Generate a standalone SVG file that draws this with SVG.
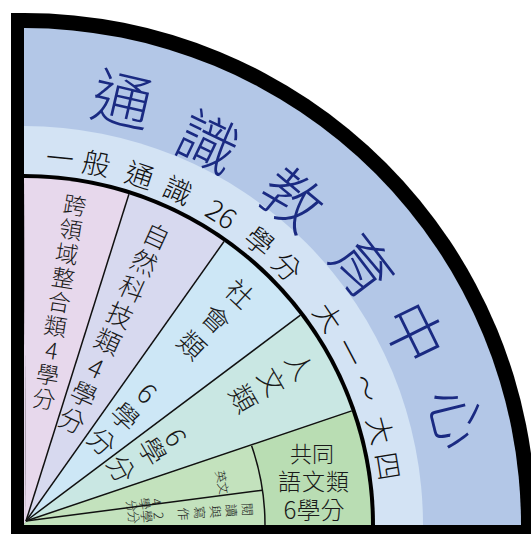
<svg xmlns="http://www.w3.org/2000/svg" width="531" height="534" viewBox="0 0 531 534">
<style>
.nav{font-family:"Noto Sans CJK TC","Noto Sans CJK SC",sans-serif;font-size:60px;font-weight:300;fill:#1a2a82;text-anchor:middle;dominant-baseline:central}
.band{font-family:"Noto Sans CJK TC","Noto Sans CJK SC",sans-serif;font-size:28px;font-weight:300;fill:#111;text-anchor:middle;dominant-baseline:central}
.col{font-family:"Noto Sans CJK TC","Noto Sans CJK SC",sans-serif;font-weight:300;fill:#1a1a1a;text-anchor:middle;dominant-baseline:central}
.ln{stroke:#111;stroke-width:1.5;fill:none}
</style>
<rect width="531" height="534" fill="#fff"/>
<g id="frame">
<path d="M11 534 L11 13 L24 13 A512 512 0 0 1 536 525 L536 534 Z" fill="#000"/>
<path d="M24 525 L24 28 A497 497 0 0 1 521 525 Z" fill="#b3c7e7"/>
<path d="M24 525 L24 126 A399 399 0 0 1 423 525 Z" fill="#d3e3f4"/>
<path d="M24 525 L24 174 A351 351 0 0 1 375 525 Z" fill="#000"/>
</g>
<g id="sectors">
<path id="s1" d="M26 521 L24 178 A347 347 0 0 1 128.9 194.2 Z" fill="#e7d8ec"/>
<path d="M24 178 L24 525 L26 521 Z" fill="#e7d8ec"/>
<path id="s2" d="M26 521 L128.9 194.2 A347 347 0 0 1 224 241.5 Z" fill="#d7d9ef"/>
<path id="s3" d="M26 521 L224 241.5 A347 347 0 0 1 300.4 315.2 Z" fill="#cde7f6"/>
<path id="s4" d="M26 521 L300.4 315.2 A347 347 0 0 1 351.7 410.9 Z" fill="#c9e7e3"/>
<path id="s5" d="M26 521 L351.7 410.9 A347 347 0 0 1 371 525 L24 525 Z" fill="#b9ddb3"/>
<path id="s5a" d="M26 521 L251.6 445.7 A241 241 0 0 1 262.5 490.2 Z" fill="#c3e2bd"/>
<path id="s5b" d="M26 521 L262.5 490.2 A241 241 0 0 1 265 525 L24 525 Z" fill="#c3e2bd"/>
</g>
<g id="connectors">
<line class="ln" x1="26" y1="521" x2="128.9" y2="194.2"/>
<line class="ln" x1="26" y1="521" x2="224" y2="241.5"/>
<line class="ln" x1="26" y1="521" x2="300.4" y2="315.2"/>
<line class="ln" x1="26" y1="521" x2="351.7" y2="410.9"/>
<line class="ln" x1="26" y1="521" x2="262.5" y2="490.2"/>
<path class="ln" d="M251.6 445.7 A241 241 0 0 1 265 525"/>
</g>
<g id="title">
<text class="nav" x="24" y="84" transform="rotate(13 24 525)">通</text>
<text class="nav" x="24" y="96" transform="rotate(25.7 24 525)">識</text>
<text class="nav" x="24" y="99" transform="rotate(39.4 24 525)">教</text>
<text class="nav" x="24" y="95" transform="rotate(52.6 24 525)">育</text>
<text class="nav" x="24" y="86" transform="rotate(63.8 24 525)">中</text>
<text class="nav" x="24" y="75" transform="rotate(76.1 24 525)">心</text>
</g>
<g id="subtitle">
<text class="band" x="24" y="155" transform="rotate(5.6 24 525)">一</text>
<text class="band" x="24" y="155" transform="rotate(11.3 24 525)">般</text>
<text class="band" x="24" y="155" transform="rotate(18.3 24 525)">通</text>
<text class="band" x="24" y="155" transform="rotate(24.7 24 525)">識</text>
<text class="band" x="24" y="155" transform="rotate(32.4 24 525)">26</text>
<text class="band" x="24" y="155" transform="rotate(39.7 24 525)">學</text>
<text class="band" x="24" y="155" transform="rotate(45.5 24 525)">分</text>
<text class="band" x="24" y="155" transform="rotate(55.7 24 525)">大</text>
<text class="band" x="24" y="155" transform="rotate(62.1 24 525)">一</text>
<text class="band" x="24" y="155" transform="rotate(68.2 24 525)">～</text>
<text class="band" x="24" y="155" transform="rotate(75.1 24 525)">大</text>
<text class="band" x="24" y="155" transform="rotate(80.8 24 525)">四</text>
</g>
<g id="cross" transform="rotate(9 24 525)">
<text class="col" style="font-size:23px">
<tspan x="24" y="200">跨</tspan><tspan x="24" y="224.5">領</tspan><tspan x="24" y="249">域</tspan><tspan x="24" y="273.5">整</tspan><tspan x="24" y="298">合</tspan><tspan x="24" y="322.5">類</tspan><tspan x="24" y="347">4</tspan><tspan x="24" y="371.5">學</tspan><tspan x="24" y="396">分</tspan>
</text>
</g>
<g id="science" transform="rotate(24.6 24 525)">
<text class="col" style="font-size:26px">
<tspan x="24" y="205">自</tspan><tspan x="24" y="234">然</tspan><tspan x="24" y="263">科</tspan><tspan x="24" y="292">技</tspan><tspan x="24" y="321">類</tspan><tspan x="24" y="350">4</tspan><tspan x="24" y="379">學</tspan><tspan x="24" y="408">分</tspan>
</text>
</g>
<g id="social" transform="rotate(43 24 525)">
<text class="col" style="font-size:27px">
<tspan x="24" y="207">社</tspan><tspan x="24" y="242">會</tspan><tspan x="24" y="277">類</tspan><tspan x="24" y="343">6</tspan><tspan x="24" y="375">學</tspan><tspan x="24" y="409">分</tspan>
</text>
</g>
<g id="humanities" transform="rotate(60 24 525)">
<text class="col" style="font-size:27px">
<tspan x="24" y="205">人</tspan><tspan x="24" y="237">文</tspan><tspan x="24" y="270">類</tspan><tspan x="24" y="348">6</tspan><tspan x="24" y="375">學</tspan><tspan x="24" y="411">分</tspan>
</text>
</g>
<g id="english">
<text class="col" style="font-size:12px" transform="translate(223 482) rotate(78)" x="0" y="0">英文</text>
<g transform="rotate(80 24 525)">
<text class="col" style="font-size:12px">
<tspan x="24" y="389">4</tspan><tspan x="24" y="401">學</tspan><tspan x="24" y="414">分</tspan>
</text>
</g>
</g>
<g id="reading" transform="rotate(86 24 525)">
<text class="col" style="font-size:13px">
<tspan x="24" y="300">閱</tspan><tspan x="24" y="316">讀</tspan><tspan x="24" y="332">與</tspan><tspan x="24" y="348">寫</tspan><tspan x="24" y="364">作</tspan><tspan x="24" y="389">2</tspan><tspan x="24" y="401">學</tspan><tspan x="24" y="414">分</tspan>
</text>
</g>
<g id="common">
<text class="col" style="font-size:23px;dominant-baseline:auto"><tspan x="312" y="462" style="font-size:22px">共同</tspan><tspan x="314" y="490" style="letter-spacing:1px">語文類</tspan><tspan x="314" y="519" style="font-size:24px">6學分</tspan></text>
</g>
</svg>
